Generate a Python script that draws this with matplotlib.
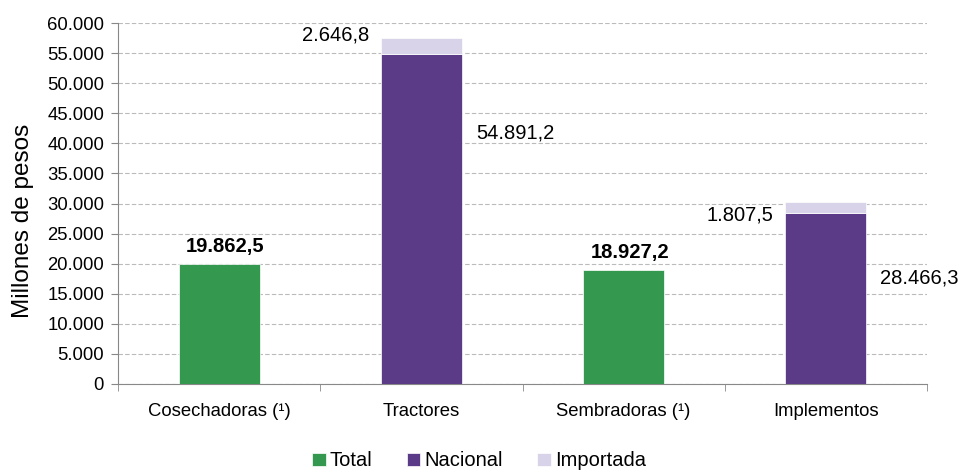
import matplotlib
matplotlib.use("Agg")
import matplotlib.pyplot as plt
import numpy as np

plt.rcParams['font.family'] = ['Liberation Sans', 'DejaVu Sans']

categories = ["Cosechadoras (¹)", "Tractores", "Sembradoras (¹)", "Implementos"]
total = [19862.5, 0, 18927.2, 0]
nacional = [0, 54891.2, 0, 28466.3]
importada = [0, 2646.8, 0, 1807.5]
yticks = list(range(0, 60001, 5000))

def fmt(v, dec=1):
    s = f"{v:,.{dec}f}"
    return s.replace(",", "X").replace(".", ",").replace("X", ".")

green = "#35984F"
purple = "#5B3A87"
light = "#D8D3E8"

fig = plt.figure(figsize=(9.58, 4.72), dpi=100)
ax = fig.add_axes([118/958, 1-384/472, (927-118)/958, (384-23)/472])

x = np.arange(len(categories))
w = 0.4
ax.bar(x, total, w, color=green, label="Total", zorder=3, edgecolor="white", linewidth=0.5)
ax.bar(x, nacional, w, color=purple, label="Nacional", zorder=3, edgecolor="white", linewidth=0.5)
ax.bar(x, importada, w, bottom=nacional, color=light, label="Importada", zorder=3, edgecolor="white", linewidth=0.5)

ax.set_xlim(-0.5, 3.5)
ax.set_ylim(0, 60000)
ax.set_yticks(yticks)
ax.set_yticklabels([fmt(t, 0) if t else "0" for t in yticks], fontsize=13.3)
ax.yaxis.grid(True, linestyle=(0, (4, 2)), color="#BBBBBB", linewidth=0.8, zorder=0)
ax.set_axisbelow(True)

ax.set_xticks(x)
ax.set_xticklabels(categories, fontsize=13.3)
ax.set_xticks(np.arange(-0.5, 4.0, 1.0), minor=True)
ax.tick_params(axis='x', which='major', length=0, pad=14)
ax.tick_params(axis='x', which='minor', length=5, color="#888888", direction='out')
ax.tick_params(axis='y', length=5, color="#888888", pad=5)

for s in ["top", "right"]:
    ax.spines[s].set_visible(False)
for s in ["left", "bottom"]:
    ax.spines[s].set_color("#888888")

ax.set_ylabel("Millones de pesos", fontsize=17.5)
ax.yaxis.set_label_coords(-(118 - 34) / (927 - 118), (384 - 221) / (384 - 23))

# label offsets (style only)
imp_dy = [0, 500, 0, -2200]
nac_dy = [0, -13200, 0, -10900]
for i in range(len(categories)):
    if total[i] > 0:
        ax.text(x[i] + 0.03, total[i] + 3000, fmt(total[i]), ha="center", va="center",
                fontsize=14.5, fontweight="bold")
    if nacional[i] > 0:
        ax.text(x[i] - 0.26, nacional[i] + importada[i] + imp_dy[i], fmt(importada[i]),
                ha="right", va="center", fontsize=14.5)
        ax.text(x[i] + 0.27, nacional[i] + nac_dy[i], fmt(nacional[i]),
                ha="left", va="center", fontsize=14.5)

fig.legend(loc="center", bbox_to_anchor=(0.5, 1 - 461/472),
           ncol=3, frameon=False,
           fontsize=14.5, handlelength=0.67, handleheight=0.67, handletextpad=0.2,
           columnspacing=1.7, borderaxespad=0, borderpad=0)

fig.savefig("out.png", dpi=100)
